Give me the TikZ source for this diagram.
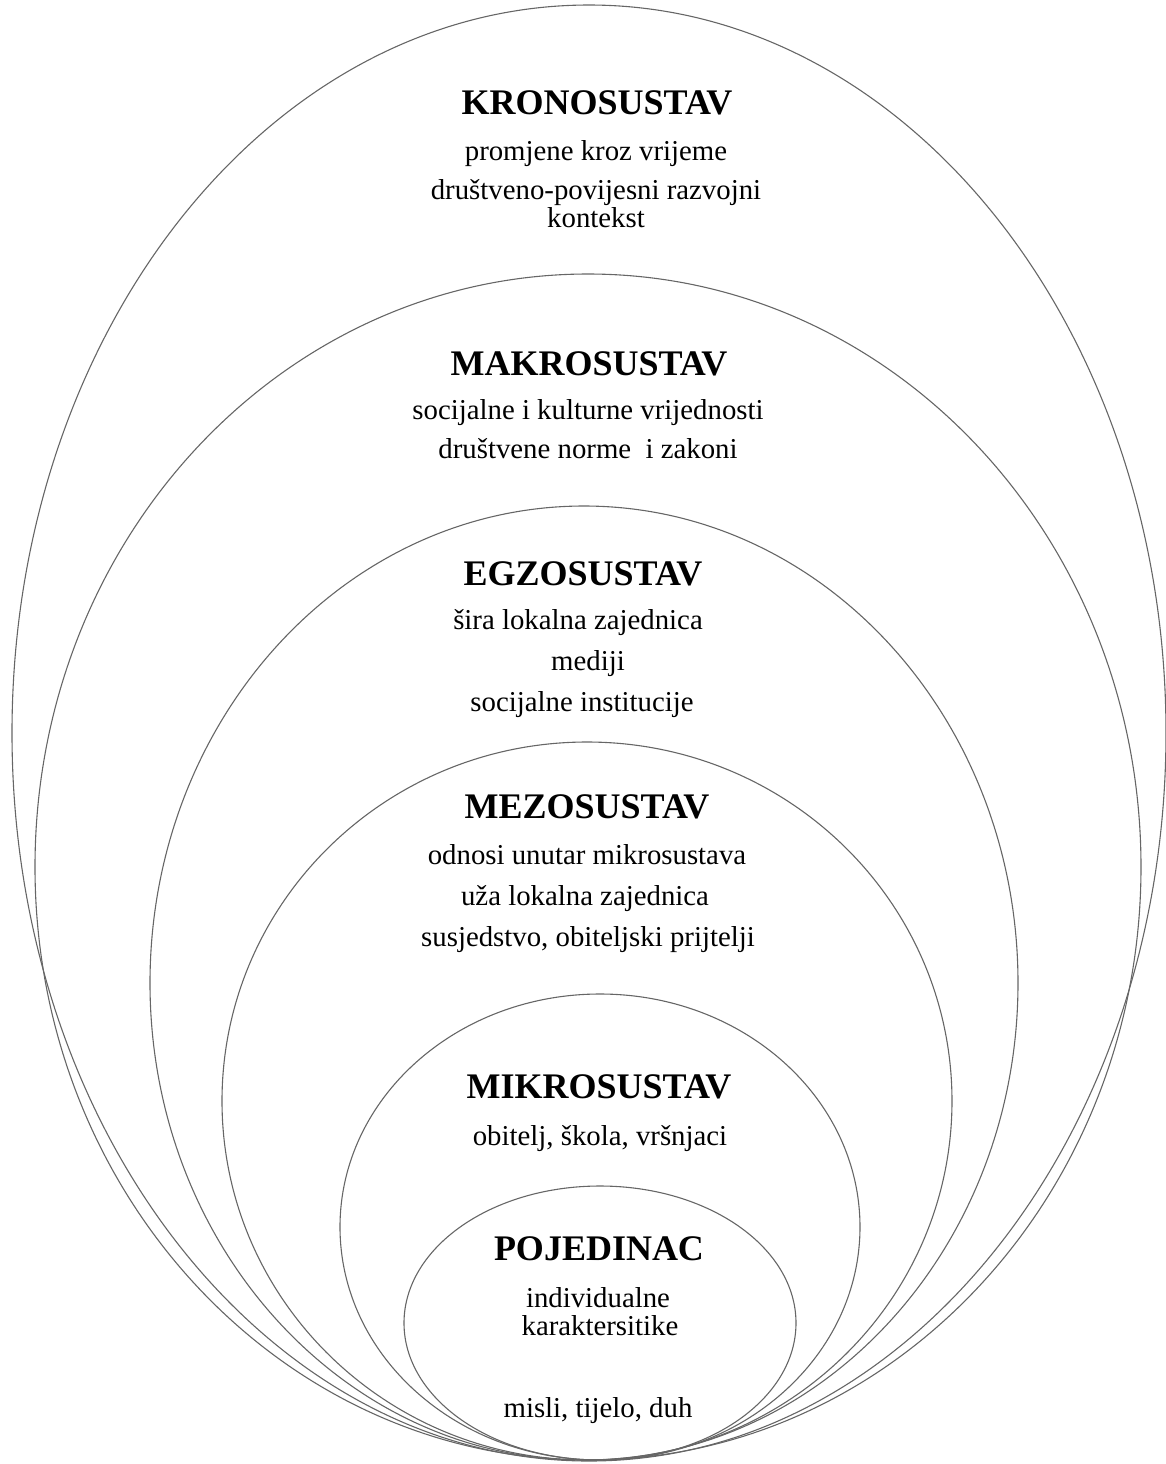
\documentclass[tikz,border=0pt]{standalone}
\usepackage{fontspec}
\setmainfont{Liberation Serif}
\begin{document}
\begin{tikzpicture}[x=0.5pt,y=-0.5pt,
  ring/.style={draw=black!60, line width=0.55pt},
  head/.style={font=\fontsize{18}{20}\selectfont\bfseries, inner sep=0, anchor=base},
  txt/.style={font=\fontsize{14.4}{16}\selectfont, inner sep=0, anchor=base}]
\useasboundingbox (0,0) rectangle (1166,1464);
% rings
\draw[ring] (589,733) ellipse [x radius=577, y radius=728];
\draw[ring] (588,867) ellipse [x radius=553, y radius=593];
\draw[ring] (584,983) ellipse [x radius=434, y radius=477];
\draw[ring] (587,1101) ellipse [x radius=365, y radius=359];
\draw[ring] (600,1227) ellipse [x radius=260, y radius=233];
\draw[ring] (600,1323) ellipse [x radius=196, y radius=137];
% texts
\node[head] (kh) at (597,114) {KRONOSUSTAV};
\node[txt] (k1) at (596,160) {promjene kroz vrijeme};
\node[txt] (k2) at (596,199) {društveno-povijesni razvojni};
\node[txt] (k3) at (596,227) {kontekst};
\node[head] (mah) at (589,375) {MAKROSUSTAV};
\node[txt] (ma1) at (588,419) {socijalne i kulturne vrijednosti};
\node[txt] (ma2) at (588,458) {društvene norme\ \ i zakoni};
\node[head] (eh) at (583,585) {EGZOSUSTAV};
\node[txt] (e1) at (578,629) {šira lokalna zajednica};
\node[txt] (e2) at (588,670) {mediji};
\node[txt] (e3) at (582,711) {socijalne institucije};
\node[head] (meh) at (587,818) {MEZOSUSTAV};
\node[txt] (me1) at (587,864) {odnosi unutar mikrosustava};
\node[txt] (me2) at (585,905) {uža lokalna zajednica};
\node[txt] (me3) at (588,946) {susjedstvo, obiteljski prijtelji};
\node[head] (mih) at (599,1098) {MIKROSUSTAV};
\node[txt] (mi1) at (600,1145) {obitelj, škola, vršnjaci};
\node[head] (ph) at (599,1260) {POJEDINAC};
\node[txt] (p1) at (598,1307) {individualne};
\node[txt] (p2) at (600,1335) {karaktersitike};
\node[txt] (p3) at (598,1417) {misli, tijelo, duh};
\end{tikzpicture}
\end{document}
